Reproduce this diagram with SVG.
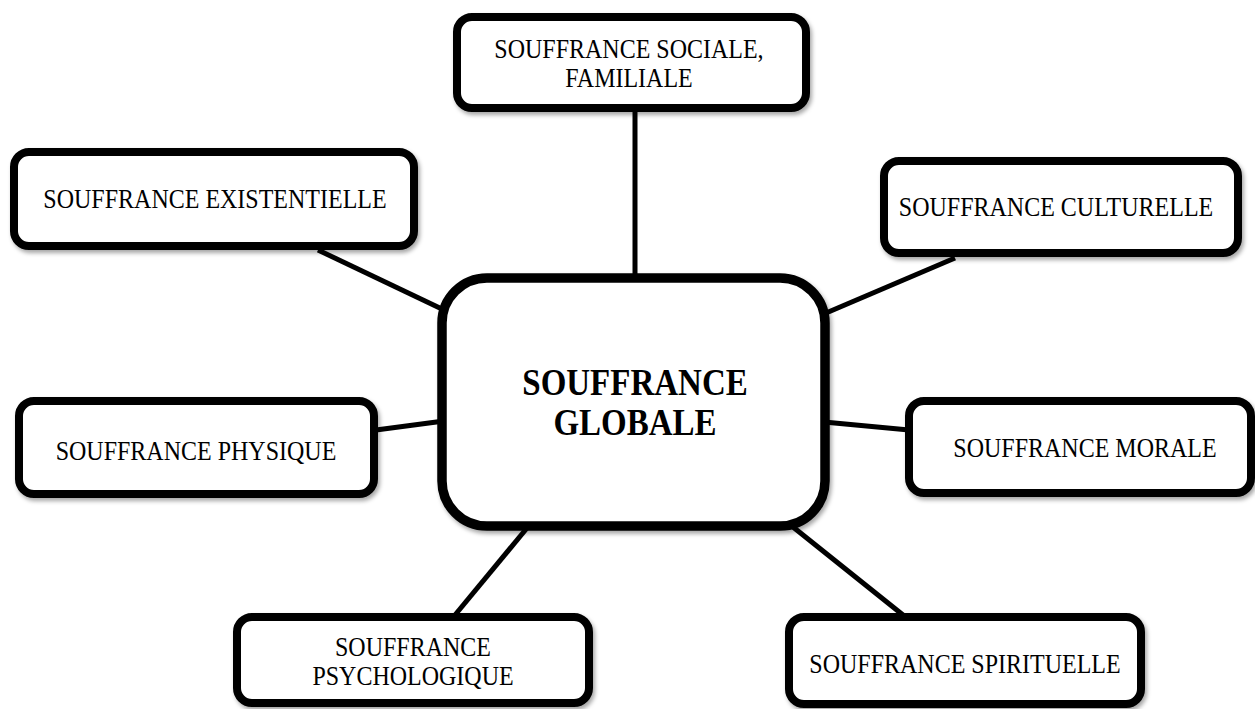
<svg xmlns="http://www.w3.org/2000/svg" width="1255" height="709" viewBox="0 0 1255 709">
<style>
.box{fill:#fff;stroke:#000;stroke-width:8}
.main{fill:#fff;stroke:#000;stroke-width:9.5}
.t{font-family:"Liberation Serif","Times New Roman",serif;font-size:24px;fill:#000;text-anchor:middle}
.tb{font-family:"Liberation Serif","Times New Roman",serif;font-size:33px;font-weight:bold;fill:#000;text-anchor:middle}
.c{stroke:#000;stroke-width:5;fill:none}
</style>
<defs>
<filter id="sh" x="-10%" y="-10%" width="120%" height="130%">
<feDropShadow dx="2" dy="3" stdDeviation="2" flood-color="#000" flood-opacity="0.35"/>
</filter>
</defs>
<rect width="1255" height="709" fill="#fff"/>
<g id="connectors">
<line class="c" x1="635" y1="108" x2="635" y2="280"/>
<line class="c" x1="318" y1="250" x2="444" y2="310"/>
<line class="c" x1="955" y1="258" x2="826" y2="313"/>
<line class="c" x1="376" y1="430" x2="444" y2="421"/>
<line class="c" x1="824" y1="422" x2="909" y2="430"/>
<line class="c" x1="527" y1="528" x2="455" y2="615"/>
<line class="c" x1="793" y1="527" x2="903" y2="615"/>
</g>
<g id="n-sociale">
<rect class="box" filter="url(#sh)" x="457" y="17" width="349" height="91" rx="15"/>
<text class="t" transform="translate(629,58) scale(1,1.12)">SOUFFRANCE SOCIALE,</text>
<text class="t" transform="translate(629,87) scale(1,1.12)">FAMILIALE</text>
</g>
<g id="n-existentielle">
<rect class="box" filter="url(#sh)" x="14" y="152" width="400" height="94" rx="15"/>
<text class="t" transform="translate(215,208) scale(1,1.15)">SOUFFRANCE EXISTENTIELLE</text>
</g>
<g id="n-culturelle">
<rect class="box" filter="url(#sh)" x="884" y="161" width="354" height="92" rx="15"/>
<text class="t" transform="translate(1056,216) scale(1,1.15)">SOUFFRANCE CULTURELLE</text>
</g>
<g id="n-globale">
<rect class="main" filter="url(#sh)" x="442" y="278" width="383" height="248" rx="45"/>
<text class="tb" transform="translate(635,395) scale(1,1.15)">SOUFFRANCE</text>
<text class="tb" transform="translate(635,435) scale(1,1.15)">GLOBALE</text>
</g>
<g id="n-physique">
<rect class="box" filter="url(#sh)" x="19" y="401" width="355" height="93" rx="15"/>
<text class="t" transform="translate(196,460) scale(1,1.15)">SOUFFRANCE PHYSIQUE</text>
</g>
<g id="n-morale">
<rect class="box" filter="url(#sh)" x="909" y="401" width="342" height="92" rx="15"/>
<text class="t" transform="translate(1085,457) scale(1,1.15)">SOUFFRANCE MORALE</text>
</g>
<g id="n-psychologique">
<rect class="box" filter="url(#sh)" x="237" y="617" width="352" height="86" rx="15"/>
<text class="t" transform="translate(413,656) scale(1,1.12)">SOUFFRANCE</text>
<text class="t" transform="translate(413,685) scale(1,1.12)">PSYCHOLOGIQUE</text>
</g>
<g id="n-spirituelle">
<rect class="box" filter="url(#sh)" x="789" y="617" width="352" height="87" rx="15"/>
<text class="t" transform="translate(965,673) scale(1,1.15)">SOUFFRANCE SPIRITUELLE</text>
</g>
</svg>
